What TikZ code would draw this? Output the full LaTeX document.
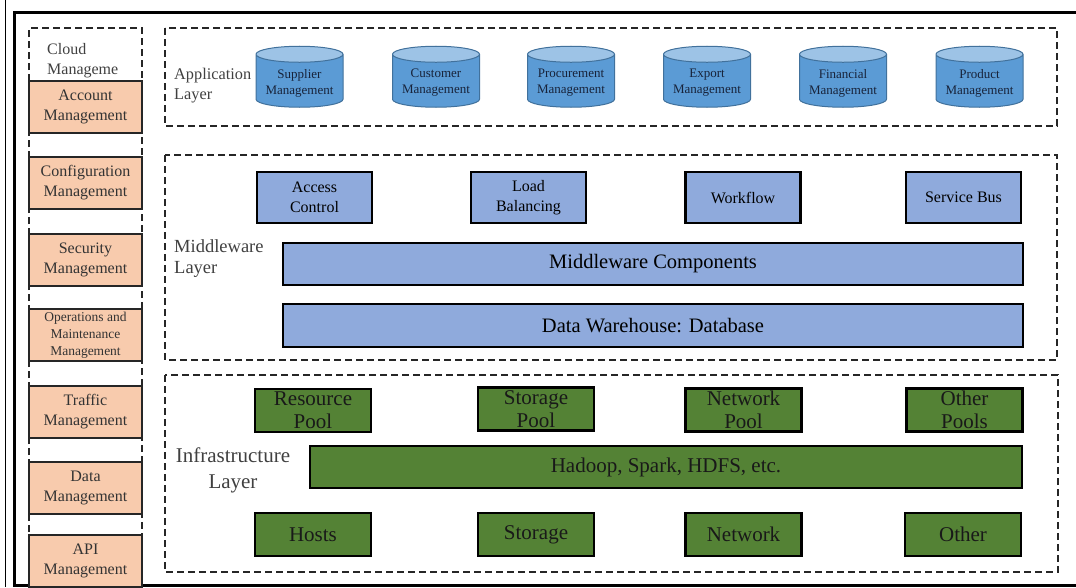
\documentclass[tikz,border=0pt]{standalone}
\usepackage{fontspec}
\setmainfont{Liberation Serif}
\usetikzlibrary{shapes.geometric}

\definecolor{mgmtfill}{HTML}{F8CBAD}
\definecolor{dbbody}{HTML}{5B9BD5}
\definecolor{dbtop}{HTML}{9DC3E6}
\definecolor{dbline}{HTML}{41719C}
\definecolor{dbtext}{HTML}{18233A}
\definecolor{midfill}{HTML}{8FAADC}
\definecolor{infrafill}{HTML}{548235}
\definecolor{labeltext}{HTML}{404040}

\begin{document}
\begin{tikzpicture}[x=1pt,y=-1pt,
	layer/.style={draw=black!85, dash pattern=on 7pt off 4pt, line width=2.2pt},
	mgmtbox/.style={draw=black!85, line width=2pt, fill=mgmtfill, minimum width=113pt, minimum height=52pt, inner sep=0pt, align=center, text=black!80, font=\fontsize{16}{20}\selectfont},
	appdb/.style={cylinder, shape border rotate=90, aspect=0.184, draw=dbline, line width=1pt, cylinder uses custom fill, cylinder body fill=dbbody, cylinder end fill=dbtop, minimum width=87pt, minimum height=61pt, inner xsep=43.5pt, inner ysep=0pt},
	dblabel/.style={align=center, text=dbtext, inner sep=0pt, yshift=2pt, font=\fontsize{13}{16}\selectfont},
	midbox/.style={draw=black, line width=2.2pt, fill=midfill, minimum width=115pt, minimum height=51pt, inner sep=0pt, align=center, font=\fontsize{16}{20}\selectfont},
	midbar/.style={draw=black, line width=2.2pt, fill=midfill, minimum width=740pt, minimum height=42pt, inner sep=0pt, font=\fontsize{20.5}{24}\selectfont},
	infrabox/.style={draw=black, line width=2.2pt, fill=infrafill, minimum width=116pt, minimum height=43pt, inner sep=0pt, align=center, text=black!90, font=\fontsize{21}{23}\selectfont},
	layertext/.style={text=labeltext, inner sep=0pt}
	]
	\useasboundingbox (0,0) rectangle (1076,587);
	
	% frame
	\draw[line width=0.8pt] (5,0) -- (5,587);
	\draw[line width=3pt] (1080,12) -- (14,12) -- (14,585) -- (1080,585);
	
	% cloud management column
	\draw[layer] (29,587) -- (29,28) -- (142,28) -- (142,587);
	\node[layertext, anchor=west, align=left, font=\fontsize{16}{20}\selectfont] (cloud) at (47,61) {Cloud\\Manageme};
	\node[mgmtbox] (account) at (85.5,106.5) {Account\\Management};
	\node[mgmtbox] (config) at (85.5,183) {Configuration\\Management};
	\node[mgmtbox] (security) at (85.5,259.5) {Security\\Management};
	\node[mgmtbox, font=\fontsize{13.5}{17}\selectfont] (operations) at (85.5,335) {Operations and\\Maintenance\\Management};
	\node[mgmtbox] (traffic) at (85.5,411.5) {Traffic\\Management};
	\node[mgmtbox] (data) at (85.5,487.5) {Data\\Management};
	\node[mgmtbox] (api) at (85.5,561) {API\\Management};
	
	% application layer
	\draw[layer] (165,28) rectangle (1057,126);
	\node[layertext, anchor=west, align=left, font=\fontsize{16.3}{20}\selectfont] (applabel) at (174,86) {Application\\Layer};
	\node[appdb, label={[dblabel]center:Supplier\\Management}] (supplier) at (299.5,85) {};
	\node[appdb, label={[dblabel]center:Customer\\Management}] (customer) at (436,85) {};
	\node[appdb, label={[dblabel]center:Procurement\\Management}] (procurement) at (571,85) {};
	\node[appdb, label={[dblabel]center:Export\\Management}] (export) at (707,85) {};
	\node[appdb, label={[dblabel]center:Financial\\Management}] (financial) at (843,85) {};
	\node[appdb, label={[dblabel]center:Product\\Management}] (product) at (979.5,85) {};
	
	% middleware layer
	\draw[layer] (165,155) rectangle (1057,360);
	\node[layertext, anchor=west, align=left, font=\fontsize{18.5}{21}\selectfont] (midlabel) at (174,258.5) {Middleware\\Layer};
	\node[midbox] (access) at (314.5,197.5) {Access\\Control};
	\node[midbox] (balancing) at (528.5,197.5) {Load\\Balancing};
	\node[midbox] (workflow) at (743,197.5) {Workflow};
	\node[midbox] (servicebus) at (963.5,197.5) {Service Bus};
	\node[midbar] (components) at (653,264) {Middleware Components};
	\node[midbar, minimum height=43pt] (warehouse) at (653,325.5) {Data Warehouse: Database};
	
	% infrastructure layer
	\draw[layer] (165,375) rectangle (1058,572);
	\node[layertext, align=center, font=\fontsize{21}{26}\selectfont] (infralabel) at (233,470) {Infrastructure\\Layer};
	\node[infrabox] (resourcepool) at (313,410.5) {Resource\\Pool};
	\node[infrabox] (storagepool) at (536,409) {Storage\\Pool};
	\node[infrabox] (networkpool) at (743.5,410) {Network\\Pool};
	\node[infrabox] (otherpools) at (964.5,410) {Other\\Pools};
	\node[infrabox, minimum width=712pt, minimum height=42pt] (hadoop) at (666,467) {Hadoop, Spark, HDFS, etc.};
	\node[infrabox] (hosts) at (313,534.5) {Hosts};
	\node[infrabox] (storage) at (536,534.5) {Storage};
	\node[infrabox] (network) at (743.5,534.5) {Network};
	\node[infrabox] (other) at (963,534.5) {Other};
\end{tikzpicture}
\end{document}
